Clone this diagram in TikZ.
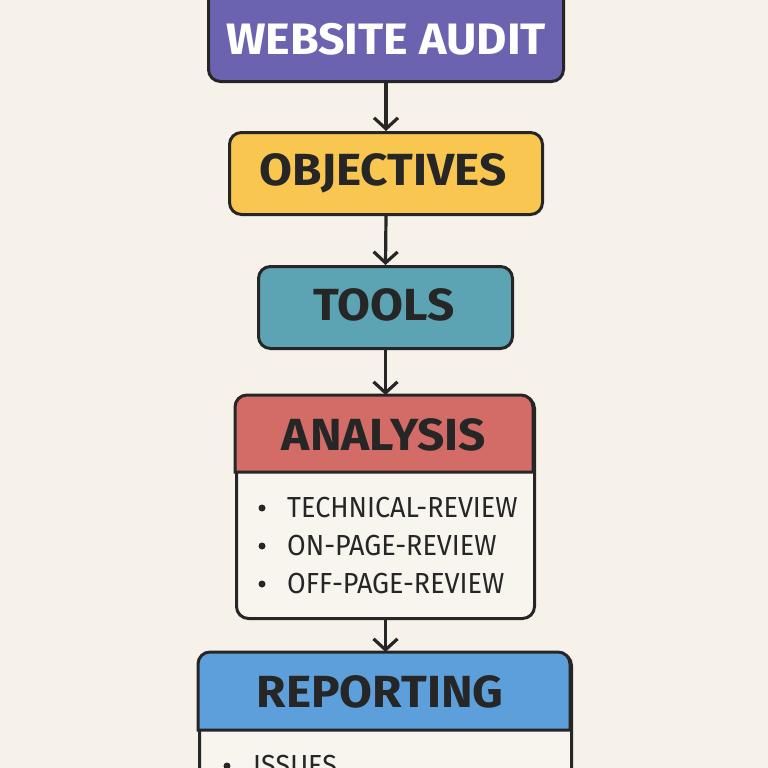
\documentclass[tikz,border=0pt]{standalone}
\usepackage{fontspec}
\setmainfont{Fira Sans}
\newfontfamily\itemfont[FakeStretch=0.93]{Fira Sans}
\newfontfamily\headfont[FakeStretch=1.06]{Fira Sans Bold}
\usetikzlibrary{arrows.meta}
\definecolor{bg}{HTML}{F6F2EA}
\definecolor{ink}{HTML}{262626}
\definecolor{cpurple}{HTML}{6B63B0}
\definecolor{cyellow}{HTML}{F9C74F}
\definecolor{cteal}{HTML}{5CA3B4}
\definecolor{cred}{HTML}{D36B67}
\definecolor{cblue}{HTML}{5C9FDB}
\definecolor{body}{HTML}{F8F5EF}
\tikzset{
  box/.style={draw=ink, line width=3pt, rounded corners=12pt, anchor=north west, inner sep=0pt},
  head/.style={font=\headfont\fontsize{45}{45}\selectfont, text=ink, inner sep=0pt},
  item/.style={font=\itemfont\fontsize{29}{29}\selectfont, text=ink, inner sep=0pt, anchor=west},
  dot/.style={circle, fill=ink, minimum size=7pt, inner sep=0pt},
  flow/.style={draw=ink, line width=3.2pt, -{Straight Barb[length=11pt, width=24pt, line width=3.2pt]}},
}
\begin{document}
\begin{tikzpicture}[x=1pt, y=-1pt]
\useasboundingbox (0,0) rectangle (768,768);
\clip (0,0) rectangle (768,768);
\fill[bg] (0,0) rectangle (768,768);
% boxes
\node[box, fill=cpurple, minimum width=355pt, minimum height=120pt] (audit) at (207,-40) {};
\node[box, fill=cyellow, minimum width=313pt, minimum height=82pt] (obj) at (228,131) {};
\node[box, fill=cteal, minimum width=254pt, minimum height=82pt] (tools) at (257,265) {};
\node[box, fill=body, minimum width=298pt, minimum height=222pt] (analysis) at (235,395) {};
\node[box, fill=body, minimum width=372pt, minimum height=200pt] (report) at (198,652) {};
% headers
\filldraw[fill=cred, draw=ink, line width=3pt] (235,472) {[rounded corners=12pt] -- (235,395) -- (533,395)} -- (533,472) -- cycle;
\filldraw[fill=cblue, draw=ink, line width=3pt] (198,730) {[rounded corners=12pt] -- (198,652) -- (570,652)} -- (570,730) -- cycle;
% heading texts
\node[head, text=white, font=\headfont\fontsize{44}{44}\selectfont] (tAudit) at (386,39) {WEBSITE AUDIT};
\node[head] (tObj) at (383,173) {OBJECTIVES};
\node[head] (tTools) at (384,305) {TOOLS};
\node[head] (tAnalysis) at (384,435) {ANALYSIS};
\node[head] (tReport) at (380,692) {REPORTING};
% items
\node[dot] (d1) at (262,508) {};
\node[dot] (d2) at (262,546) {};
\node[dot] (d3) at (262,584) {};
\node[item] (i1) at (287,508) {TECHNICAL-REVIEW};
\node[item] (i2) at (287,546) {ON-PAGE-REVIEW};
\node[item] (i3) at (287,584) {OFF-PAGE-REVIEW};
\node[dot] (d4) at (227,766) {};
\node[item] (i4) at (253,766) {ISSUES};
% arrows
\draw[flow] (audit.south) -- (obj.north);
\draw[flow] (obj.south) -- (tools.north);
\draw[flow] (tools.south) -- (analysis.north);
\draw[flow] (analysis.south) -- (report.north);
\end{tikzpicture}
\end{document}
